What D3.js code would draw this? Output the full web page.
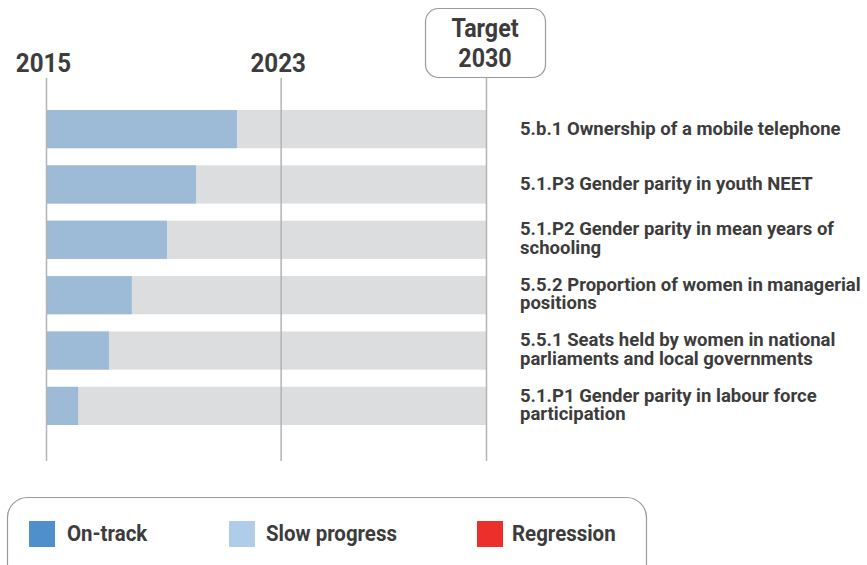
<!DOCTYPE html>
<html lang="en">
<head>
<meta charset="utf-8">
<title>SDG 5 progress</title>
<script src="https://d3js.org/d3.v7.min.js"></script>
<style>
  body { margin: 0; background: #fff; }
  text { font-family: Roboto, "Liberation Sans", sans-serif; font-weight: 700; fill: #3c3c3c; }
</style>
</head>
<body>
<script>
// data
const indicators = [
  ["5.b.1 Ownership of a mobile telephone"],
  ["5.1.P3 Gender parity in youth NEET"],
  ["5.1.P2 Gender parity in mean years of", "schooling"],
  ["5.5.2 Proportion of women in managerial", "positions"],
  ["5.5.1 Seats held by women in national", "parliaments and local governments"],
  ["5.1.P1 Gender parity in labour force", "participation"]
]
// share of the way from 2015 baseline to 2030 target (%)
const progress = [43.4, 34.1, 27.5, 19.5, 14.3, 7.3]
const milestoneYears = [2015, 2023, 2030]
const legendLabels = ["On-track", "Slow progress", "Regression"]
const legendColors = ["#4f8fcb", "#afcde9", "#ed2f2b"]

const W = 867, H = 565
const condense = 0.93 // narrow face look
const labelCondense = 0.975

const svg = d3.select("body").append("svg")
    .attr("width", W).attr("height", H)

const yearScale = d3.scaleLinear().domain([2015, 2030]).range([46.5, 486.5])
const xScale = d3.scaleLinear().domain([0, 100]).range([46, 486])
const yScale = d3.scaleBand().domain(d3.range(indicators.length))
    .range([110, 425]).paddingInner(0.31).paddingOuter(0)

// background bars
svg.selectAll(".track").data(progress).enter().append("rect")
    .attr("class", "track")
    .attr("x", xScale(0))
    .attr("y", (d, i) => yScale(i))
    .attr("width", xScale(100) - xScale(0))
    .attr("height", yScale.bandwidth())
    .attr("fill", "#dcdddf")

svg.selectAll(".bar").data(progress).enter().append("rect")
    .attr("class", "bar")
    .attr("x", xScale(0))
    .attr("y", (d, i) => yScale(i))
    .attr("width", d => xScale(d) - xScale(0))
    .attr("height", yScale.bandwidth())
    .attr("fill", "#9dbad7")

// year lines
svg.selectAll(".yline").data(milestoneYears).enter().append("line")
    .attr("x1", d => yearScale(d)).attr("x2", d => yearScale(d))
    .attr("y1", 78).attr("y2", 461)
    .attr("stroke", "#b3b3b3").attr("stroke-width", 1.5)

// year labels
milestoneYears.slice(0, 2).forEach(y => {
    svg.append("g")
        .attr("transform", "translate(" + (yearScale(y) - 3) + ",72) scale(" + condense + ",1)")
      .append("text")
        .attr("text-anchor", "middle")
        .style("font-size", "26px")
        .text(y)
})

// target box
const tx = yearScale(2030)
svg.append("rect")
    .attr("x", 425.5).attr("y", 8.5)
    .attr("width", 120).attr("height", 69)
    .attr("rx", 13)
    .attr("fill", "#fff").attr("stroke", "#9a9a9a").attr("stroke-width", 1.2)
const tg = svg.append("g").attr("transform", "translate(" + (tx - 1.5) + ",0) scale(" + condense + ",1)")
tg.append("text").attr("text-anchor", "middle").attr("y", 37).style("font-size", "25px").text("Target")
tg.append("text").attr("text-anchor", "middle").attr("y", 67).style("font-size", "25px").text(milestoneYears[2])

// indicator labels
indicators.forEach((lines, i) => {
    const cy = yScale(i) + yScale.bandwidth() / 2
    const lh = 18.6
    const top = cy - (lines.length - 1) * lh / 2 + (lines.length > 1 ? 4.9 : 5.8)
    svg.append("g")
        .attr("transform", "translate(520," + top + ") scale(" + labelCondense + ",1)")
      .append("text")
        .style("font-size", "19px")
      .selectAll("tspan").data(lines).enter().append("tspan")
        .attr("x", 0)
        .attr("y", (t, j) => j * lh)
        .text(t => t)
})

// legend
svg.append("rect")
    .attr("x", 7.5).attr("y", 497.5)
    .attr("width", 639).attr("height", 100)
    .attr("rx", 20)
    .attr("fill", "#fff").attr("stroke", "#9a9a9a").attr("stroke-width", 1.2)

const legendX = [29, 229, 477]
const legendTextX = [67, 266, 512]
legendLabels.forEach((l, i) => {
    svg.append("rect")
        .attr("x", legendX[i]).attr("y", 521)
        .attr("width", 26).attr("height", 26)
        .attr("fill", legendColors[i])
    svg.append("g")
        .attr("transform", "translate(" + legendTextX[i] + ",541) scale(" + condense + ",1)")
      .append("text")
        .style("font-size", "22px")
        .text(l)
})
</script>
</body>
</html>
